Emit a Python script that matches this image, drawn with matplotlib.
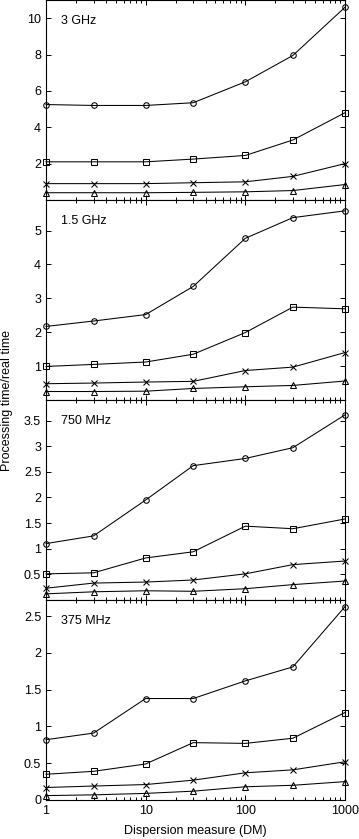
import numpy as np
import matplotlib
matplotlib.use("Agg")
from matplotlib import pyplot as plt
from matplotlib.ticker import LogLocator, NullFormatter, FixedLocator

plt.rcParams['font.family'] = ['Liberation Sans', 'DejaVu Sans']
plt.rcParams['font.size'] = 9

# dispersion measure values
dm = [1, 3, 10, 30, 100, 300, 1000]

# 3 GHz
ghz3_circle = [5.25, 5.2, 5.2, 5.35, 6.5, 7.95, 10.6]
ghz3_square = [2.1, 2.1, 2.1, 2.25, 2.45, 3.3, 4.8]
ghz3_cross = [0.9, 0.9, 0.9, 0.95, 1.0, 1.3, 2.0]
ghz3_tri = [0.4, 0.4, 0.4, 0.42, 0.45, 0.52, 0.85]

# 1.5 GHz
ghz15_circle = [2.17, 2.33, 2.52, 3.35, 4.77, 5.38, 5.58]
ghz15_square = [0.99, 1.05, 1.12, 1.35, 1.99, 2.74, 2.69]
ghz15_cross = [0.48, 0.5, 0.53, 0.55, 0.87, 0.97, 1.4]
ghz15_tri = [0.25, 0.25, 0.26, 0.34, 0.39, 0.43, 0.56]

# 750 MHz
mhz750_circle = [1.1, 1.25, 1.95, 2.62, 2.76, 2.97, 3.61]
mhz750_square = [0.51, 0.53, 0.82, 0.94, 1.44, 1.39, 1.58]
mhz750_cross = [0.23, 0.33, 0.35, 0.39, 0.51, 0.69, 0.76]
mhz750_tri = [0.12, 0.16, 0.18, 0.17, 0.22, 0.3, 0.37]

# 375 MHz
mhz375_circle = [0.82, 0.91, 1.38, 1.38, 1.62, 1.81, 2.63]
mhz375_square = [0.35, 0.39, 0.49, 0.78, 0.77, 0.84, 1.19]
mhz375_cross = [0.17, 0.19, 0.21, 0.27, 0.37, 0.41, 0.52]
mhz375_tri = [0.06, 0.07, 0.09, 0.12, 0.18, 0.2, 0.25]

panels = [
    ("3 GHz", [ghz3_circle, ghz3_square, ghz3_cross, ghz3_tri], (0, 11), [2, 4, 6, 8, 10]),
    ("1.5 GHz", [ghz15_circle, ghz15_square, ghz15_cross, ghz15_tri], (0, 5.9), [1, 2, 3, 4, 5]),
    ("750 MHz", [mhz750_circle, mhz750_square, mhz750_cross, mhz750_tri], (0, 3.9),
     [0.5, 1, 1.5, 2, 2.5, 3, 3.5]),
    ("375 MHz", [mhz375_circle, mhz375_square, mhz375_cross, mhz375_tri], (0, 2.72),
     [0, 0.5, 1, 1.5, 2, 2.5]),
]
markers = ['o', 's', 'x', '^']

W, H = 359, 839
fig = plt.figure(figsize=(W / 100, H / 100), dpi=100)

left, right = 46, 345
for i, (label, series, ylim, yticks) in enumerate(panels):
    top = i * 200
    ax = fig.add_axes([left / W, (H - top - 200) / H, (right - left) / W, 200 / H])
    for vals, m in zip(series, markers):
        ax.plot(dm, vals, color='black', lw=0.75, marker=m, markersize=4,
                mfc='none', mec='black', mew=0.75, clip_on=False)
    ax.set_xscale('log')
    ax.set_xlim(1, 1000)
    ax.set_ylim(*ylim)
    ax.yaxis.set_major_locator(FixedLocator(yticks))
    ax.set_yticklabels(['%g' % t for t in yticks])
    ax.xaxis.set_major_locator(LogLocator(base=10))
    ax.xaxis.set_minor_locator(LogLocator(base=10, subs=np.arange(2, 10)))
    ax.xaxis.set_minor_formatter(NullFormatter())
    ax.tick_params(which='both', direction='in', top=True, right=True, width=0.7)
    ax.tick_params(which='major', length=3.5, pad=3.5)
    ax.tick_params(which='minor', length=2)
    for s in ax.spines.values():
        s.set_linewidth(0.8)
    if i < 3:
        ax.set_xticklabels([])
    else:
        ax.set_xticks([1, 10, 100, 1000])
        ax.set_xticklabels(['1', '10', '100', '1000'])
    ax.text(0.05, 0.895, label, transform=ax.transAxes, va='center', ha='left')

fig.text(7 / W, 1 - 400 / H, 'Processing time/real time', rotation=90,
         va='center', ha='center')
fig.text((left + right) / 2 / W, 1 - 831 / H, 'Dispersion measure (DM)',
         va='center', ha='center')

fig.savefig('out.png', dpi=100)
